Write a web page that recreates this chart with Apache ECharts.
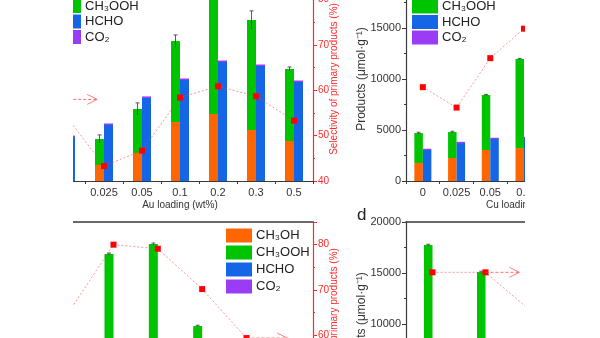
<!DOCTYPE html>
<html><head><meta charset="utf-8">
<script src="https://cdn.jsdelivr.net/npm/echarts@6/dist/echarts.min.js"></script>
<style>
html,body{margin:0;padding:0;background:#fff;width:600px;height:338px;overflow:hidden}
#c{position:absolute;left:0;top:0;width:600px;height:338px;clip-path:inset(0px 75px 0px 73px)}
</style></head><body><div id="c"></div>
<script>
// ---------- data ----------
const seriesNames = ['CH₃OH', 'CH₃OOH', 'HCHO', 'CO₂'];

// panel a : Au loading
const auCats = ['0', '0.025', '0.05', '0.1', '0.2', '0.3', '0.5'];
const auCH3OH = [1500, 1570, 2745, 5780, 6570, 5000, 3920];
const auCH3OOH = [1500, 2550, 4315, 7940, 11930, 10780, 7060];
const auHCHO = [4300, 5490, 8140, 9900, 11660, 11270, 9700];
const auCO2 = [150, 150, 150, 150, 150, 150, 150];
const auSel = [54.4, 43.3, 46.7, 58.4, 60.9, 58.7, 53.3];
const auErr = [[1, 3720, 4520], [2, 6460, 7660], [3, 13120, 14320], [4, 17800, 19200], [5, 14880, 16680], [6, 10780, 11180]];

// panel b : Cu loading
const cuCats = ['0', '0.025', '0.05', '0.1', '0.2', '0.3', '0.5'];
const cuCH3OH = [1760, 2250, 3040, 3230, 3000, 2800, 2500];
const cuCH3OOH = [2940, 2550, 5390, 8730, 10500, 8200, 6500];
const cuHCHO = [3040, 3720, 4120, 4210, 4500, 4300, 4000];
const cuCO2 = [120, 120, 120, 120, 120, 120, 120];
const cuSel = [60.7, 56.2, 67.1, 73.6, 76.0, 73.0, 70.0];
const cuErr = [[0, 4620, 4780], [1, 4720, 4880], [2, 8370, 8490], [3, 11900, 12020]];

// panel c
const cCats = ['1', '2', '3', '4', '5', '6'];
const cCH3OH = [2500, 3500, 3800, 2500, 1800, 1500];
const cCH3OOH = [3500, 13360, 14040, 7300, 5200, 3500];
const cHCHO = [3000, 4000, 4200, 3500, 3000, 2800];
const cCO2 = [120, 120, 120, 120, 120, 120];
const cSel = [65.3, 80.0, 79.1, 70.2, 59.4, 57.0];
const cErr = [[1, 16760, 16960], [2, 17740, 17940], [3, 9720, 9880]];

// panel d
const dCats = ['1', '2', '3', '4'];
const dCH3OH = [3000, 2800, 2500, 2000];
const dCH3OOH = [14740, 12300, 6500, 4000];
const dHCHO = [4000, 4200, 3800, 3000];
const dCO2 = [120, 120, 120, 120];
const dSel = [73.9, 73.9, 63.9, 60.0];
const dErr = [[0, 17660, 17820], [1, 15020, 15180]];

// annotation arrows: [category index, from offset, to offset, selectivity]
const auArrow = [[1, -1.6, -0.18, 58.0]];
const cArrow = [[4, 0, 0.92, 59.4]];
const dArrow = [[1, 0, 0.64, 73.9]];

// ---------- style ----------
const FONT = 'Liberation Sans, Arial, sans-serif';
const COLORS = ['#ff6600', '#00c400', '#1466e6', '#9b3cf5'];
const RED = '#ff2a2a';
const DARK = '#333';

function catAxis(grid, cats, name, pos) {
  const top = pos === 'top';
  return {
    type: 'category', gridIndex: grid, data: cats, position: pos || 'bottom',
    axisLine: { show: true, lineStyle: { color: '#3a3a3a', width: top ? 1.6 : 1.2 } },
    axisTick: { show: !top, length: 3, lineStyle: { color: '#3a3a3a' } },
    axisLabel: { show: !top, interval: 0, hideOverlap: false, fontSize: 11, color: DARK, fontFamily: FONT, margin: 6 },
    splitLine: { show: false },
    name: top ? '' : name, nameLocation: 'middle', nameGap: 19, nameMoveOverlap: false,
    nameTextStyle: { fontSize: 10, color: DARK, fontFamily: FONT }
  };
}
function prodAxis(grid) {
  return {
    type: 'value', gridIndex: grid, min: 0, max: 20000, interval: 5000, position: 'left',
    axisLine: { show: true, lineStyle: { color: '#3a3a3a', width: 1.2 } },
    axisTick: { show: true, length: 4, lineStyle: { color: '#3a3a3a' } },
    minorTick: { show: true, splitNumber: 2, length: 2, lineStyle: { color: '#3a3a3a' } },
    axisLabel: { fontSize: 11, color: DARK, fontFamily: FONT, margin: 5, formatter: v => String(v) },
    splitLine: { show: false }, minorSplitLine: { show: false },
    name: 'Products (μmol·g⁻¹)', nameLocation: 'middle', nameRotate: 90, nameGap: 38, nameMoveOverlap: false,
    nameTextStyle: { fontSize: 12, color: DARK, fontFamily: FONT }
  };
}
function selAxis(grid) {
  return {
    type: 'value', gridIndex: grid, min: 40, max: 85, interval: 10, position: 'right',
    axisLine: { show: true, lineStyle: { color: RED, width: 1.2 } },
    axisTick: { show: true, length: 4, lineStyle: { color: RED } },
    minorTick: { show: true, splitNumber: 2, length: 2, lineStyle: { color: RED } },
    axisLabel: { fontSize: 10, color: RED, fontFamily: FONT, margin: 5, showMaxLabel: false, formatter: v => String(v) },
    splitLine: { show: false }, minorSplitLine: { show: false },
    name: 'Selectivity of primary products (%)', nameLocation: 'middle', nameRotate: 90, nameGap: 16, nameMoveOverlap: false,
    nameTextStyle: { fontSize: 10, color: RED, fontFamily: FONT }
  };
}

function barSeries(xi, yi, vals, bw) {
  const out = [];
  const stacks = ['s1' + xi, 's1' + xi, 's2' + xi, 's2' + xi];
  vals.forEach((v, k) => {
    out.push({
      type: 'bar', name: seriesNames[k], xAxisIndex: xi, yAxisIndex: yi, stack: stacks[k],
      data: v, barWidth: bw, barGap: '0%', itemStyle: { color: COLORS[k] }, z: 2
    });
  });
  return out;
}
function selSeries(xi, yi, vals) {
  return {
    type: 'line', xAxisIndex: xi, yAxisIndex: yi, data: vals, symbol: 'rect', symbolSize: 6,
    itemStyle: { color: '#ff0000' },
    lineStyle: { color: 'rgba(255,60,60,0.55)', width: 1, type: [2, 2] }, z: 5
  };
}
function errSeries(xi, yi, data, bw) {
  return {
    type: 'custom', xAxisIndex: xi, yAxisIndex: yi, data: data, z: 4,
    renderItem(params, api) {
      const hi = api.coord([api.value(0), api.value(2)]);
      const lo = api.coord([api.value(0), api.value(1)]);
      const x = hi[0] - bw / 2;
      return { type: 'group', children: [
        { type: 'line', shape: { x1: x, y1: lo[1], x2: x, y2: hi[1] }, style: { stroke: '#333', lineWidth: 0.8 } },
        { type: 'line', shape: { x1: x - 2, y1: hi[1], x2: x + 2, y2: hi[1] }, style: { stroke: '#333', lineWidth: 0.8 } }
      ] };
    }
  };
}
function arrowSeries(xi, yi, data) {
  return {
    type: 'custom', xAxisIndex: xi, yAxisIndex: yi, data: data, z: 6, clip: false,
    renderItem(params, api) {
      const p = api.coord([api.value(0), api.value(3)]);
      const band = api.size([1, 0])[0];
      const x0 = p[0] + api.value(1) * band, x1 = p[0] + api.value(2) * band, y = p[1];
      return { type: 'group', children: [
        { type: 'line', shape: { x1: x0, y1: y, x2: x1, y2: y }, style: { stroke: 'rgba(255,60,60,0.75)', lineWidth: 1, lineDash: [3, 2] } },
        { type: 'polyline', shape: { points: [[x1 - 10, y - 5], [x1, y], [x1 - 10, y + 5]] }, style: { stroke: 'rgba(255,70,70,0.7)', lineWidth: 1, fill: null } }
      ] };
    }
  };
}
function legend(left, top, gap) {
  return {
    orient: 'vertical', left: left, top: top, padding: 0, itemGap: gap, itemWidth: 26, itemHeight: 14,
    icon: 'rect', data: seriesNames, selectedMode: false,
    textStyle: { fontSize: 13, color: '#222', fontFamily: FONT, padding: [0, 0, 0, -1] }
  };
}

const option = {
  animation: false,
  backgroundColor: '#fff',
  textStyle: { fontFamily: FONT },
  grid: [
    { left: 47, top: -23, width: 266, height: 204, outerBoundsMode: 'none' },
    { left: 406, top: -23, width: 236, height: 204, outerBoundsMode: 'none' },
    { left: 47, top: 222, width: 266, height: 204, outerBoundsMode: 'none' },
    { left: 406, top: 222, width: 212, height: 204, outerBoundsMode: 'none' }
  ],
  xAxis: [
    catAxis(0, auCats, 'Au loading (wt%)'),
    catAxis(1, cuCats, 'Cu loading (wt%)'),
    catAxis(2, cCats, ''),
    catAxis(2, cCats, '', 'top'),
    catAxis(3, dCats, ''),
    catAxis(3, dCats, '', 'top')
  ],
  yAxis: [
    prodAxis(0), selAxis(0),
    prodAxis(1), selAxis(1),
    prodAxis(2), selAxis(2),
    prodAxis(3), selAxis(3)
  ],
  legend: [legend(55, -16.5, 1.5), legend(412, -16, 1.5), legend(226, 228.5, 3)],
  graphic: [
    { type: 'text', left: 357, top: 207, style: { text: 'd', fontSize: 17, fill: '#222', font: '17px Liberation Sans, Arial' } }
  ],
  series: [
    ...barSeries(0, 0, [auCH3OH, auCH3OOH, auHCHO, auCO2], 9),
    errSeries(0, 0, auErr, 9),
    selSeries(0, 1, auSel),
    arrowSeries(0, 1, auArrow),
    ...barSeries(1, 2, [cuCH3OH, cuCH3OOH, cuHCHO, cuCO2], 8.5),
    errSeries(1, 2, cuErr, 8.5),
    selSeries(1, 3, cuSel),
    ...barSeries(2, 4, [cCH3OH, cCH3OOH, cHCHO, cCO2], 9),
    errSeries(2, 4, cErr, 9),
    selSeries(2, 5, cSel),
    arrowSeries(2, 5, cArrow),
    ...barSeries(4, 6, [dCH3OH, dCH3OOH, dHCHO, dCO2], 8.5),
    errSeries(4, 6, dErr, 8.5),
    selSeries(4, 7, dSel),
    arrowSeries(4, 7, dArrow)
  ]
};
const chart = echarts.init(document.getElementById('c'), null, { renderer: 'canvas' });
chart.setOption(option);
</script></body></html>
